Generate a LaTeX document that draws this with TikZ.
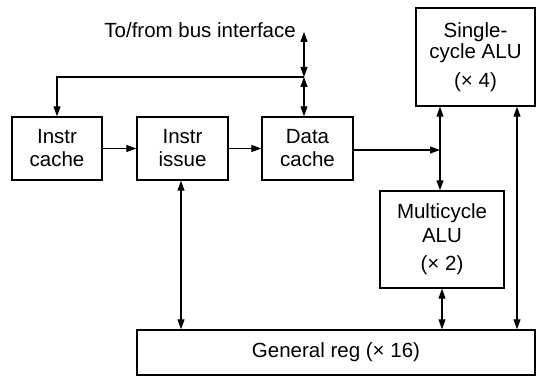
\documentclass[tikz,border=0pt]{standalone}
\usepackage{fontspec}
\setmainfont{Liberation Sans}
\usetikzlibrary{arrows.meta}
\begin{document}
\begin{tikzpicture}[x=1pt,y=-1pt,
  blk/.style={draw,line width=1.4pt,inner sep=0pt,align=center,font=\fontsize{20.5}{23}\selectfont},
  conn/.style={line width=1.1pt},
  tip/.style={-{Triangle[length=10pt,width=7pt]}},
  dtip/.style={{Triangle[length=10pt,width=7pt]}-{Triangle[length=10pt,width=7pt]}}]
\useasboundingbox (0,0) rectangle (536,377);
\node[blk,minimum width=90pt,minimum height=63pt] (ic) at (57,148.5) {Instr\\cache};
\node[blk,minimum width=91pt,minimum height=63pt] (ii) at (182.5,148.5) {Instr\\issue};
\node[blk,minimum width=91pt,minimum height=63pt] (dc) at (307.5,148.5) {Data\\cache};
\node[blk,minimum width=119pt,minimum height=98pt] (sa) at (475.5,57) {Single-\\[-2pt]cycle ALU\\[6pt](× 4)};
\node[blk,minimum width=124pt,minimum height=97pt] (ma) at (442,239.5) {Multicycle\\[1pt]ALU\\[5pt](× 2)};
\node[blk,minimum width=398pt,minimum height=45pt] (gr) at (336,352.5) {General reg (× 16)};
\node[font=\fontsize{20.5}{23}\selectfont,anchor=east,inner sep=0pt] (bus) at (296,30) {To/from bus interface};
\coordinate (bt) at (304,32);
\coordinate (j) at (304,77);
\coordinate (dj) at (440,150);
\draw[conn,dtip] (bt) -- (j);
\draw[conn,dtip] (j) -- (j |- dc.north);
\draw[conn,tip] (j) -| (ic.north);
\draw[conn,tip] (ic.east) -- (ii.west);
\draw[conn,tip] (ii.east) -- (dc.west);
\draw[conn,tip] (dc.east |- dj) -- (dj);
\draw[conn,dtip] (dj |- sa.south) -- (dj |- ma.north);
\draw[conn,dtip] (517,0 |- sa.south) -- (517,0 |- gr.north);
\draw[conn,dtip] (181,0 |- ii.south) -- (181,0 |- gr.north);
\draw[conn,dtip] (ma.south) -- (ma.south |- gr.north);
\end{tikzpicture}
\end{document}
